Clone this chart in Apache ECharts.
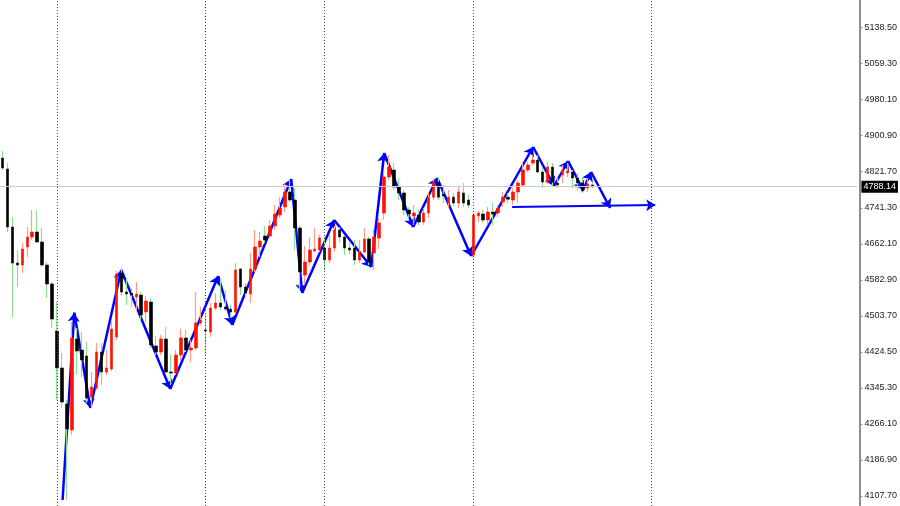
<!DOCTYPE html>
<html>
<head>
<meta charset="utf-8">
<script src="https://cdn.jsdelivr.net/npm/echarts@6/dist/echarts.min.js"></script>
<style>html,body{margin:0;padding:0;background:#fff}#c{width:900px;height:506px}</style>
</head>
<body>
<div id="c"></div>
<script>
// ---- data ----
const slotCount = 173;
const opens = [4851.3,4827.1,4699.5,4620.3,4615.9,4655.5,4677.5,4688.5,4666.5,4615.9,
4574.1,4470.7,4389.3,4310.1,4252.9,4453.1,4428.9,4415.7,4325.5,4345.3,
4424.5,4380.5,4387.1,4457.5,4598.3,4556.5,4554.3,4545.5,4549.9,4512.5,
4534.5,4437.7,4424.5,4453.1,4380.5,4378.3,4417.9,4455.3,4428.9,4433.3,
4488.3,4472.9,4468.5,4521.3,4532.3,4523.5,4519.1,4512.5,4607.1,4567.5,
4552.1,4607.1,4655.5,4679.7,4679.7,4701.7,4725.9,4743.5,4776.5,4758.9,
4697.3,4593.9,4622.5,4646.7,4648.9,4653.3,4626.9,4653.3,4692.9,4677.5,
4653.3,4653.3,4626.9,4644.5,4673.1,4642.3,4675.3,4730.3,4809.5,4824.9,
4787.5,4774.3,4736.9,4723.7,4725.9,4710.5,4730.3,4765.1,4798.5,4772.1,
4752.3,4765.1,4752.3,4774.3,4758.9,4637.9,4723.7,4728.1,4714.9,4732.5,
4730.3,4754.5,4765.1,4758.9,4776.5,4791.9,4824.9,4840.3,4846.9,4820.5,
4798.5,4831.5,4796.3,4813.9,4818.3,4820.5,4807.3,4796.3,4785.3,4791.9];
const closes = [4829.3,4699.5,4620.3,4615.9,4651.1,4677.5,4688.5,4666.5,4615.9,4574.1,
4497.1,4389.3,4314.5,4255.1,4455.3,4426.7,4406.9,4323.3,4347.5,4424.5,
4380.5,4389.3,4475.1,4596.1,4556.5,4552.1,4549.9,4552.1,4505.9,4536.7,
4439.9,4424.5,4453.1,4380.5,4378.3,4417.9,4455.3,4428.9,4433.3,4488.3,
4494.9,4470.7,4521.3,4532.3,4523.5,4519.1,4512.5,4604.9,4567.5,4554.3,
4607.1,4655.5,4668.7,4670.9,4701.7,4728.1,4741.3,4776.5,4758.9,4697.3,
4600.5,4622.5,4648.9,4651.1,4675.3,4626.9,4653.3,4692.9,4677.5,4653.3,
4648.9,4626.9,4644.5,4673.1,4622.5,4677.5,4708.3,4809.5,4831.5,4787.5,
4774.3,4736.9,4728.1,4730.3,4710.5,4730.3,4765.1,4798.5,4765.1,4767.7,
4765.1,4752.3,4776.5,4752.3,4747.9,4725.9,4730.3,4714.9,4732.5,4728.1,
4741.3,4765.1,4760.7,4776.5,4796.3,4824.9,4835.9,4846.9,4820.5,4798.5,
4831.5,4798.5,4791.9,4824.9,4822.7,4807.3,4796.3,4778.7,4794.1,4788.14];
const lows = [4824.9,4688.5,4501.5,4567.5,4598.3,4633.5,4670.9,4664.3,4611.5,4543.3,
4477.3,4318.9,4301.3,4098.9,4241.9,4373.9,4369.5,4312.3,4301.3,4340.9,
4351.9,4373.9,4382.7,4450.9,4547.7,4527.9,4523.5,4516.9,4490.5,4490.5,
4433.3,4417.9,4417.9,4378.3,4351.9,4373.9,4406.9,4424.5,4402.5,4428.9,
4483.9,4417.9,4457.5,4516.9,4516.9,4514.7,4499.3,4508.1,4549.9,4547.7,
4532.3,4600.5,4633.5,4664.3,4675.3,4692.9,4719.3,4732.5,4754.5,4648.9,
4560.9,4571.9,4615.9,4644.5,4644.5,4600.5,4620.3,4644.5,4666.5,4637.9,
4640.1,4615.9,4620.3,4642.3,4615.9,4604.9,4651.1,4714.9,4802.9,4780.9,
4758.9,4725.9,4719.3,4703.9,4703.9,4703.9,4719.3,4758.9,4758.9,4752.3,
4741.3,4745.7,4741.3,4743.5,4741.3,4631.3,4710.5,4708.3,4703.9,4703.9,
4721.5,4743.5,4752.3,4747.9,4752.3,4789.7,4820.5,4835.9,4818.3,4785.3,
4794.1,4787.5,4785.3,4796.3,4809.5,4785.3,4778.7,4774.3,4776.5,4785.3];
const highs = [4866.7,4840.3,4721.5,4648.9,4664.3,4699.5,4736.9,4734.7,4697.3,4622.5,
4578.5,4534.5,4422.3,4318.9,4490.5,4477.3,4468.5,4446.5,4380.5,4444.3,
4444.3,4428.9,4490.5,4602.7,4609.3,4587.3,4565.3,4578.5,4556.5,4547.7,
4543.3,4459.7,4461.9,4479.5,4420.1,4428.9,4475.1,4472.9,4450.9,4556.5,
4523.9,4505.9,4532.3,4554.3,4587.3,4560.9,4527.9,4620.3,4609.3,4576.3,
4642.3,4692.9,4688.5,4701.7,4714.9,4747.9,4765.5,4796.3,4802.9,4785.3,
4701.7,4657.7,4677.5,4697.3,4681.9,4677.5,4681.9,4701.7,4699.5,4681.9,
4664.3,4670.9,4670.9,4697.3,4677.5,4692.9,4719.3,4820.5,4857.9,4840.3,
4807.3,4780.9,4743.5,4747.9,4736.9,4741.3,4776.1,4807.3,4807.3,4791.9,
4780.9,4774.3,4787.5,4796.3,4769.9,4730.3,4734.7,4736.9,4743.5,4752.3,
4747.9,4776.1,4774.3,4785.3,4802.9,4842.5,4842.5,4857.9,4857.9,4829.3,
4842.5,4840.3,4807.3,4835.9,4840.3,4824.9,4818.3,4809.5,4807.3,4796.3];
// zigzag annotation (x in bar-index units, y in price)
const zigX = [12.13,14.49,17.72,23.97,33.85,43.53,46.36,58.26,60.48,66.93,74.4,77.02,82.87,87.71,94.56,107.07,111.3,114.13,117.15,118.77,122.6];
const zigY = [4098.9,4511.0,4301.3,4604.9,4343.1,4591.7,4483.9,4805.1,4554.3,4714.9,4611.5,4862.3,4699.5,4807.3,4635.7,4875.5,4789.7,4844.7,4780.9,4820.5,4741.3];
const levelX = [102.83,131.7];
const levelY = [4743.5,4747.9];
const separators = [11,41,65,95,131];
const lastPrice = 4788.14;
const tickValues = [4107.7,4186.9,4266.1,4345.3,4424.5,4503.7,4582.9,4662.1,4741.3,4821.7,4900.9,4980.1,5059.3,5138.5];
const yMin = 4085.7, yMax = 5198.9;

// ---- build ----
const categories = [];
for (let i = 0; i < slotCount; i++) categories.push(String(i));
const wickData = opens.map((o, i) => [o, closes[i], lows[i], highs[i]]);
const bodyData = opens.map((o, i) => [o, closes[i], Math.min(o, closes[i]), Math.max(o, closes[i])]);
const zigSegs = [];
for (let i = 0; i < zigX.length - 1; i++) zigSegs.push({coords: [[zigX[i], zigY[i]], [zigX[i+1], zigY[i+1]]]});
const levelSegs = [{coords: [[levelX[0], levelY[0]], [levelX[1], levelY[1]]]}];

const chart = echarts.init(document.getElementById('c'), null, {renderer: 'canvas'});
chart.setOption({
  animation: false,
  backgroundColor: '#ffffff',
  grid: {left: -0.32, width: 857.73, top: 0, bottom: 0, containLabel: false},
  xAxis: [
    {type: 'category', data: categories, boundaryGap: true, show: false},
    {type: 'value', min: -0.5, max: slotCount - 0.5, show: false}
  ],
  yAxis: {
    type: 'value', position: 'right', min: yMin, max: yMax, offset: 2, scale: true,
    axisLine: {show: true, onZero: false, lineStyle: {color: '#8c8c8c', width: 2}},
    axisTick: {show: true, length: 3, inside: false, lineStyle: {color: '#8c8c8c'}, customValues: tickValues},
    axisLabel: {show: true, margin: 5, color: '#1a1a1a', fontSize: 9, fontFamily: 'Liberation Sans',
      customValues: tickValues, formatter: v => v.toFixed(2)},
    splitLine: {show: false}
  },
  series: [
    {
      type: 'line', data: [], xAxisIndex: 0, silent: true,
      markLine: {
        silent: true, symbol: ['none', 'none'],
        data: separators.map(s => ({xAxis: String(s), lineStyle: {color: '#444', type: [1, 2], width: 1}, label: {show: false}}))
          .concat([{yAxis: lastPrice, lineStyle: {color: '#cccccc', type: 'solid', width: 1},
            label: {show: true, position: 'end', distance: 4, formatter: lastPrice.toFixed(2), color: '#ffffff',
              backgroundColor: '#000000', padding: [2, 2, 1, 2], fontSize: 9, fontFamily: 'Liberation Sans'}}])
      }
    },
    {
      type: 'candlestick', data: wickData, barWidth: 1, silent: true,
      itemStyle: {color: '#ff9c86', color0: '#8ee08e', borderColor: '#ff9c86', borderColor0: '#8ee08e', borderWidth: 1.2}
    },
    {
      type: 'candlestick', data: bodyData, barWidth: 3, silent: true,
      itemStyle: {color: '#ff1200', color0: '#000000', borderColor: '#ff1200', borderColor0: '#000000', borderWidth: 0.6}
    },
    {
      type: 'lines', coordinateSystem: 'cartesian2d', xAxisIndex: 1, yAxisIndex: 0, silent: true,
      data: zigSegs, symbol: ['none', 'arrow'], symbolSize: 9,
      lineStyle: {color: '#0000ff', width: 2.5, opacity: 1}
    },
    {
      type: 'lines', coordinateSystem: 'cartesian2d', xAxisIndex: 1, yAxisIndex: 0, silent: true,
      data: levelSegs, symbol: ['none', 'arrow'], symbolSize: 9,
      lineStyle: {color: '#0000ff', width: 2, opacity: 1}
    }
  ]
});
</script>
</body>
</html>
